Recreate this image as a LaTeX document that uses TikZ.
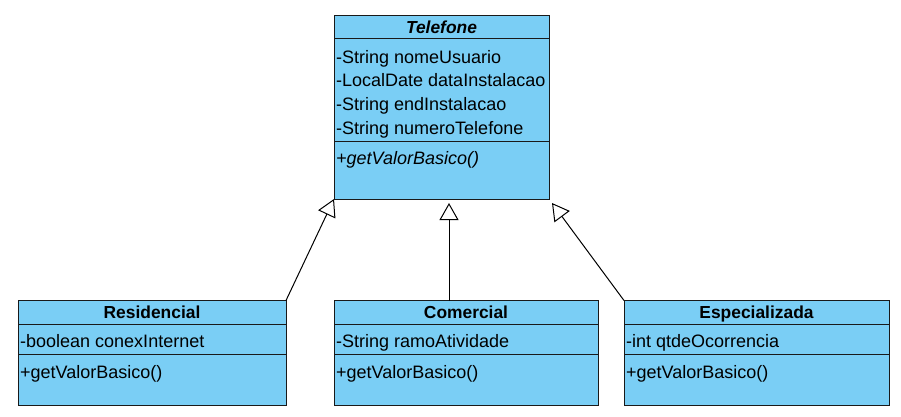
\documentclass[tikz,border=0pt]{standalone}
\usepackage{fontspec}
\setmainfont{Liberation Sans}
\usetikzlibrary{positioning,arrows.meta}
\definecolor{classblue}{RGB}{122,206,245}
\newcommand{\umlfont}{\fontsize{17.4}{21}\selectfont}
\newcommand{\memberfont}{\fontsize{18}{21}\selectfont}

\begin{document}
\begin{tikzpicture}[x=1pt,y=-1pt]
\tikzstyle{part} = [draw=black!90,fill=classblue,line width=1pt,inner sep=0pt,outer sep=0pt,anchor=north west]
\tikzstyle{cname} = [font=\umlfont\bfseries,inner sep=0pt,text height=12.5pt,text depth=0pt]
\tikzstyle{member} = [font=\memberfont,anchor=base west,inner sep=0pt]
\tikzstyle{inherit} = [line width=1pt,-{Triangle[open,fill=white,length=17pt,width=19pt]}]

\useasboundingbox (0,0) rectangle (901,417);

% Telefone
\node[part,minimum width=215pt,minimum height=23pt] (tel) at (334,15.5) {};
\node[part,minimum width=215pt,minimum height=102.5pt,below=0pt of tel] (telAttr) {};
\node[part,minimum width=215pt,minimum height=58pt,below=0pt of telAttr] (telMeth) {};
\node[cname] (telName) at (tel) {\itshape Telefone};
\node[member] (telA1) at ([xshift=2pt,yshift=-25pt]telAttr.north west) {-String nomeUsuario};
\node[member] (telA2) at ([yshift=-23.5pt]telA1.base west) {-LocalDate dataInstalacao};
\node[member] (telA3) at ([yshift=-23.5pt]telA2.base west) {-String endInstalacao};
\node[member] (telA4) at ([yshift=-23.5pt]telA3.base west) {-String numeroTelefone};
\node[member] (telM1) at ([xshift=2pt,yshift=-23pt]telMeth.north west) {\itshape +getValorBasico()};

% Residencial
\node[part,minimum width=268pt,minimum height=23.5pt] (res) at (18,300.5) {};
\node[part,minimum width=268pt,minimum height=30pt,below=0pt of res] (resAttr) {};
\node[part,minimum width=268pt,minimum height=51.5pt,below=0pt of resAttr] (resMeth) {};
\node[cname] (resName) at (res) {Residencial};
\node[member] (resA1) at ([xshift=2pt,yshift=-23.5pt]resAttr.north west) {-boolean conexInternet};
\node[member] (resM1) at ([xshift=2pt,yshift=-24.5pt]resMeth.north west) {+getValorBasico()};

% Comercial
\node[part,minimum width=264pt,minimum height=23.5pt] (com) at (334,300.5) {};
\node[part,minimum width=264pt,minimum height=30pt,below=0pt of com] (comAttr) {};
\node[part,minimum width=264pt,minimum height=51.5pt,below=0pt of comAttr] (comMeth) {};
\node[cname] (comName) at (com) {Comercial};
\node[member] (comA1) at ([xshift=2pt,yshift=-23.5pt]comAttr.north west) {-String ramoAtividade};
\node[member] (comM1) at ([xshift=2pt,yshift=-24.5pt]comMeth.north west) {+getValorBasico()};

% Especializada
\node[part,minimum width=265pt,minimum height=23.5pt] (esp) at (624,300.5) {};
\node[part,minimum width=265pt,minimum height=30pt,below=0pt of esp] (espAttr) {};
\node[part,minimum width=265pt,minimum height=51.5pt,below=0pt of espAttr] (espMeth) {};
\node[cname] (espName) at (esp) {Especializada};
\node[member] (espA1) at ([xshift=2pt,yshift=-23.5pt]espAttr.north west) {-int qtdeOcorrencia};
\node[member] (espM1) at ([xshift=2pt,yshift=-24.5pt]espMeth.north west) {+getValorBasico()};

% generalizations
\coordinate (telTipMid) at ([xshift=7.5pt,yshift=-4pt]telMeth.south);
\coordinate (telTipRight) at ([xshift=3pt,yshift=-4pt]telMeth.south east);
\draw[inherit] (res.north east) -- (telMeth.south west);
\draw[inherit] (telTipMid |- com.north) -- (telTipMid);
\draw[inherit] (esp.north west) -- (telTipRight);
\end{tikzpicture}
\end{document}
